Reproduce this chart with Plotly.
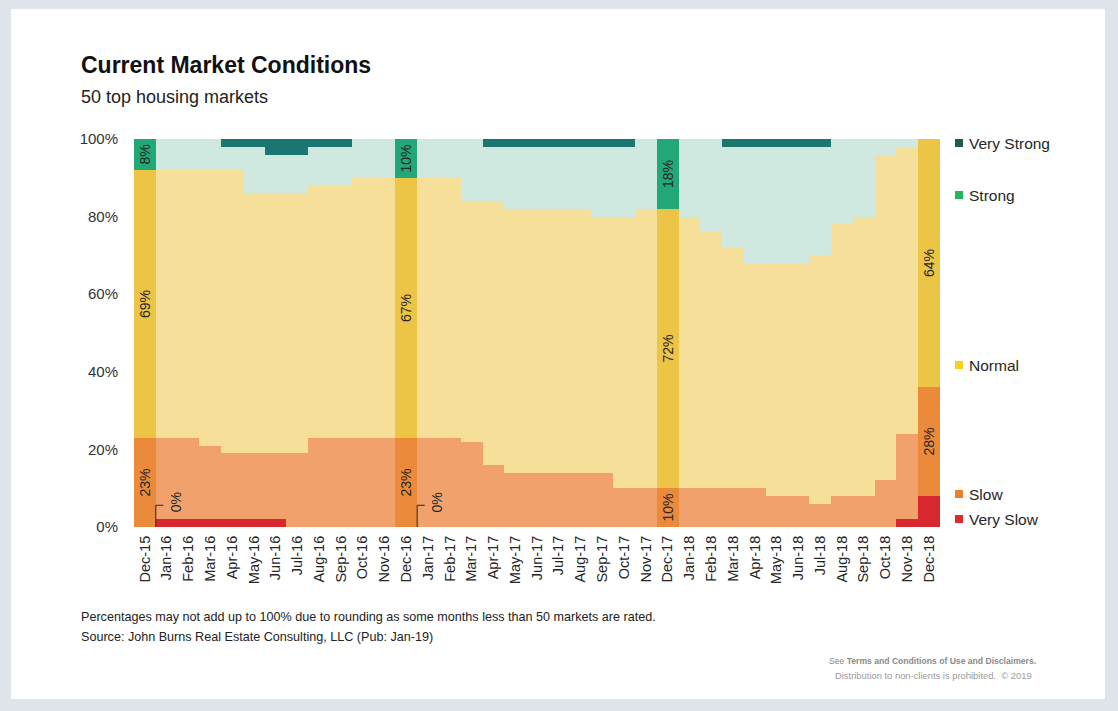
import plotly.graph_objects as go

# Monthly share of the 50 top housing markets by condition (percent)
months = [
    "Dec-15", "Jan-16", "Feb-16", "Mar-16", "Apr-16", "May-16", "Jun-16", "Jul-16",
    "Aug-16", "Sep-16", "Oct-16", "Nov-16", "Dec-16", "Jan-17", "Feb-17", "Mar-17",
    "Apr-17", "May-17", "Jun-17", "Jul-17", "Aug-17", "Sep-17", "Oct-17", "Nov-17",
    "Dec-17", "Jan-18", "Feb-18", "Mar-18", "Apr-18", "May-18", "Jun-18", "Jul-18",
    "Aug-18", "Sep-18", "Oct-18", "Nov-18", "Dec-18",
]
very_slow = [0, 2, 2, 2, 2, 2, 2, 0, 0, 0, 0, 0, 0, 0, 0, 0, 0, 0, 0, 0, 0, 0, 0, 0,
             0, 0, 0, 0, 0, 0, 0, 0, 0, 0, 0, 2, 8]
slow = [23, 21, 21, 19, 17, 17, 17, 19, 23, 23, 23, 23, 23, 23, 23, 22, 16, 14, 14, 14,
        14, 14, 10, 10, 10, 10, 10, 10, 10, 8, 8, 6, 8, 8, 12, 22, 28]
normal = [69, 69, 69, 71, 73, 67, 67, 67, 65, 65, 67, 67, 67, 67, 67, 62, 68, 68, 68, 68,
          68, 66, 70, 72, 72, 70, 66, 62, 58, 60, 60, 64, 70, 72, 84, 74, 64]
strong = [8, 8, 8, 8, 6, 12, 10, 10, 10, 10, 10, 10, 10, 10, 10, 16, 14, 16, 16, 16,
          16, 18, 18, 18, 18, 20, 24, 26, 30, 30, 30, 28, 22, 20, 4, 2, 0]
very_strong = [0, 0, 0, 0, 2, 2, 4, 4, 2, 2, 0, 0, 0, 0, 0, 0, 2, 2, 2, 2,
               2, 2, 2, 0, 0, 0, 0, 2, 2, 2, 2, 2, 0, 0, 0, 0, 0]

y_ticks = [0, 20, 40, 60, 80, 100]
y_tick_labels = ["0%", "20%", "40%", "60%", "80%", "100%"]

categories = ["Very Slow", "Slow", "Normal", "Strong", "Very Strong"]
series = [very_slow, slow, normal, strong, very_strong]

# (highlighted December colour, regular month colour, legend swatch colour)
palette = {
    "Very Slow": ("#d8282f", "#d8282f", "#e02a2e"),
    "Slow": ("#ec8a3b", "#f1a26c", "#ea7f2e"),
    "Normal": ("#ecc446", "#f6df99", "#f5d21c"),
    "Strong": ("#22a876", "#cfe9e1", "#2bb45b"),
    "Very Strong": ("#1a7670", "#1a7670", "#1f5b4b"),
}

FONT = "Arial, Liberation Sans, sans-serif"
W, H = 1118, 711
L, R, T, B = 134, 940, 139, 527  # plot area in pixels


def px(x):
    return (x - L) / (R - L)


def py(y):
    return (B - y) / (B - T)


x = list(range(len(months)))
is_dec = [m.startswith("Dec") for m in months]

fig = go.Figure()
for name, vals in zip(categories, series):
    hi, lo, _ = palette[name]
    colors = [hi if d else lo for d in is_dec]
    texts = [f"{v}%" if (d and v > 0 and name != "Very Slow") else "" for v, d in zip(vals, is_dec)]
    fig.add_trace(go.Bar(
        x=x, y=vals, name=name,
        marker=dict(color=colors, line=dict(width=0)),
        text=texts, textposition="inside", insidetextanchor="middle",
        textangle=-90, textfont=dict(family=FONT, size=14, color="#262626"),
        showlegend=False, hoverinfo="skip",
    ))

shapes = [
    # white card on a grey page
    dict(type="rect", xref="paper", yref="paper", x0=px(11), x1=px(1105), y0=py(699), y1=py(9),
         fillcolor="white", line=dict(width=0), layer="below"),
]
annotations = []

# "0%" call-outs for the very slow share in the first two Decembers
for i in (0, 12):
    shapes.append(dict(type="path", xref="x", yref="y",
                       path=f"M {i + 0.5},0 L {i + 0.5},5.6 L {i + 0.85},5.6",
                       line=dict(color="#262626", width=1)))
    annotations.append(dict(x=i + 1.43, y=6.4, xref="x", yref="y", text=f"{very_slow[i]}%",
                            showarrow=False, textangle=-90,
                            font=dict(family=FONT, size=14, color="#262626")))

# legend on the right
legend_y = {"Very Strong": 143, "Strong": 195, "Normal": 365, "Slow": 494, "Very Slow": 519}
for name in categories:
    yc = legend_y[name]
    shapes.append(dict(type="rect", xref="paper", yref="paper",
                       x0=px(955), x1=px(963), y0=py(yc + 4), y1=py(yc - 4),
                       fillcolor=palette[name][2], line=dict(width=0)))
    annotations.append(dict(x=px(967), y=py(yc), xref="paper", yref="paper", text=name,
                            showarrow=False, xanchor="left", yanchor="middle",
                            font=dict(family=FONT, size=15.5, color="#262626")))

# titles and notes
annotations += [
    dict(x=px(79), y=py(65), xref="paper", yref="paper", text="<b>Current Market Conditions</b>",
         showarrow=False, xanchor="left", yanchor="middle",
         font=dict(family=FONT, size=23, color="#111111")),
    dict(x=px(79), y=py(97), xref="paper", yref="paper", text="50 top housing markets",
         showarrow=False, xanchor="left", yanchor="middle",
         font=dict(family=FONT, size=18, color="#222222")),
    dict(x=px(79), y=py(617), xref="paper", yref="paper",
         text="Percentages may not add up to 100% due to rounding as some months less than 50 markets are rated.",
         showarrow=False, xanchor="left", yanchor="middle",
         font=dict(family=FONT, size=12.6, color="#222222")),
    dict(x=px(79), y=py(637), xref="paper", yref="paper",
         text="Source: John Burns Real Estate Consulting, LLC (Pub: Jan-19)",
         showarrow=False, xanchor="left", yanchor="middle",
         font=dict(family=FONT, size=12.6, color="#222222")),
    dict(x=px(1038), y=py(661), xref="paper", yref="paper",
         text="See <b>Terms and Conditions of Use and Disclaimers.</b>",
         showarrow=False, xanchor="right", yanchor="middle",
         font=dict(family=FONT, size=8.6, color="#8a8a8a")),
    dict(x=px(1034), y=py(675), xref="paper", yref="paper",
         text="Distribution to non-clients is prohibited.  \u00a9 2019",
         showarrow=False, xanchor="right", yanchor="middle",
         font=dict(family=FONT, size=9.4, color="#9a9a9a")),
]

fig.update_layout(
    width=W, height=H,
    margin=dict(l=L, r=W - R, t=T, b=H - B, pad=0),
    paper_bgcolor="#dfe3ea", plot_bgcolor="white",
    barmode="stack", bargap=0,
    font=dict(family=FONT, color="#262626"),
    shapes=shapes, annotations=annotations,
    xaxis=dict(tickmode="array", tickvals=x, ticktext=months, tickangle=-90,
               range=[-0.5, len(months) - 0.5], showgrid=False, zeroline=False,
               showline=False, ticks="outside", ticklen=2, tickcolor="rgba(0,0,0,0)",
               tickfont=dict(family=FONT, size=14.5, color="#262626")),
    yaxis=dict(range=[0, 100], tickmode="array", tickvals=y_ticks, ticktext=y_tick_labels,
               showgrid=False, zeroline=False, showline=False,
               ticks="outside", ticklen=12, tickcolor="rgba(0,0,0,0)",
               tickfont=dict(family=FONT, size=15, color="#333333")),
)

fig.write_html("out.html")
